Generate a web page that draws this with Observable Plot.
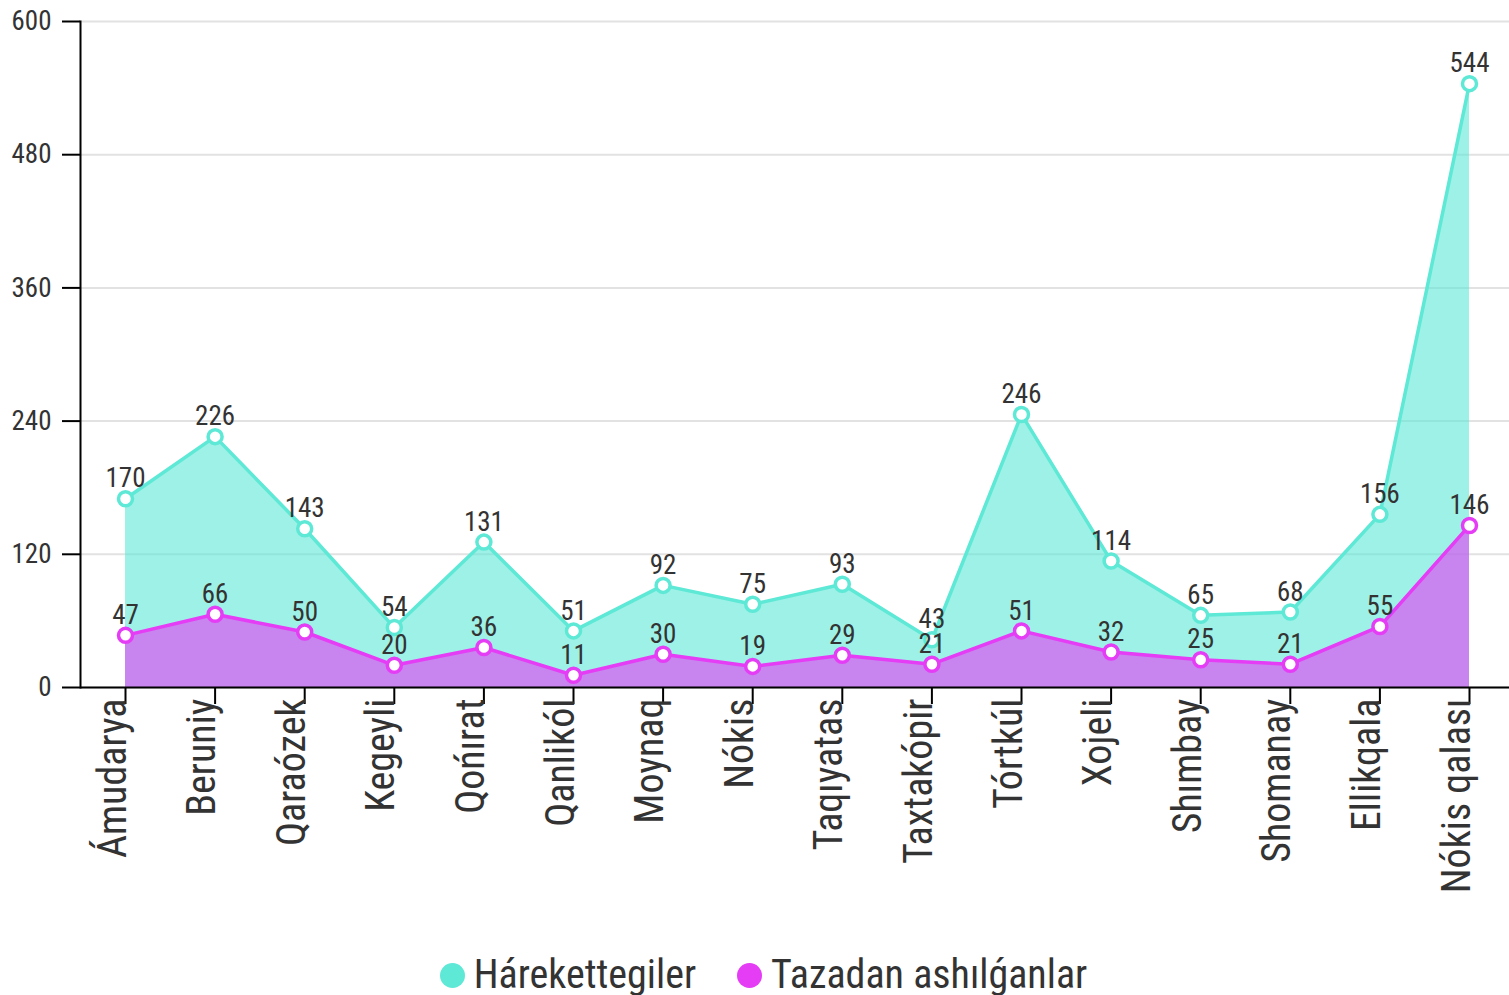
<!DOCTYPE html>
<html>
<head>
<meta charset="utf-8">
<script src="https://cdn.jsdelivr.net/npm/d3@7"></script>
<script src="https://cdn.jsdelivr.net/npm/@observablehq/plot@0.6"></script>
<style>
  body { margin: 0; background: #fff; font-family: "Roboto Condensed", "Liberation Sans Narrow", Roboto, sans-serif; }
  #chart svg { display: block; }
  .legend { display: flex; justify-content: center; align-items: center; gap: 41px; margin-top: 40px; padding-left: 18px; font-size: 40px; color: #333; line-height: 50px; }
  .legend span.item { display: flex; align-items: center; gap: 9px; }
  .legend span.sw { width: 25px; height: 25px; border-radius: 50%; display: inline-block; }
</style>
</head>
<body>
<div id="chart"></div>
<div class="legend" id="legend"></div>
<script>
const categories = ["Ámudarya","Beruniy","Qaraózek","Kegeyli","Qońırat","Qanlikól","Moynaq","Nókis","Taqıyatas","Taxtakópir","Tórtkúl","Xojeli","Shımbay","Shomanay","Ellikqala","Nókis qalası"];
const harekettegiler = [170,226,143,54,131,51,92,75,93,43,246,114,65,68,156,544];
const tazadan = [47,66,50,20,36,11,30,19,29,21,51,32,25,21,55,146];
const seriesNames = ["Hárekettegiler","Tazadan ashılǵanlar"];
const seriesColors = ["#5ee8d6","#e53cf5"];
const yTicks = [0,120,240,360,480,600];

const dataH = categories.map((c,i)=>({cat:c, v:harekettegiler[i]}));
const dataT = categories.map((c,i)=>({cat:c, v:tazadan[i]}));
const font = '"Roboto Condensed", "Liberation Sans Narrow", Roboto, sans-serif';

const chart = Plot.plot({
  width: 1509,
  height: 910,
  marginLeft: 80,
  marginRight: 0,
  marginTop: 21,
  marginBottom: 223,
  style: {fontFamily: font, background: "white"},
  x: {type: "point", domain: categories, range: [80.2, 1513.8], padding: 0.5, round: false, label: null},
  y: {domain: [0, 600], label: null},
  marks: [
    Plot.gridY(yTicks, {stroke: "#e2e2e2", strokeOpacity: 1, strokeWidth: 2}),
    Plot.areaY(dataH, {x: "cat", y: "v", fill: seriesColors[0], fillOpacity: 0.6}),
    Plot.areaY(dataT, {x: "cat", y: "v", fill: seriesColors[1], fillOpacity: 0.6}),
    Plot.lineY(dataH, {x: "cat", y: "v", stroke: seriesColors[0], strokeWidth: 3.5}),
    Plot.lineY(dataT, {x: "cat", y: "v", stroke: seriesColors[1], strokeWidth: 3.5}),
    Plot.dot(dataH, {x: "cat", y: "v", r: 7, fill: "white", stroke: seriesColors[0], strokeWidth: 3.5}),
    Plot.dot(dataT, {x: "cat", y: "v", r: 7, fill: "white", stroke: seriesColors[1], strokeWidth: 3.5}),
    Plot.text(dataH, {x: "cat", y: "v", text: "v", dy: -20, fontSize: 27, fill: "#333"}),
    Plot.text(dataT, {x: "cat", y: "v", text: "v", dy: -20, fontSize: 27, fill: "#333"}),
    Plot.axisY({ticks: yTicks, tickSize: 18, tickPadding: 11, fontSize: 27, fill: "#333", stroke: "black", strokeWidth: 2, label: null}),
    Plot.axisX({tickSize: 17, tickFormat: () => "", stroke: "black", strokeWidth: 2, label: null}),
    Plot.text(categories, {x: d => d, frameAnchor: "bottom", rotate: -90, textAnchor: "end", lineAnchor: "bottom", dy: 11, fontSize: 40, fill: "#333"}),
    Plot.ruleY([0], {stroke: "black", strokeWidth: 2}),
    Plot.frame({anchor: "left", stroke: "black", strokeWidth: 2})
  ]
});
document.getElementById("chart").appendChild(chart);

const legend = document.getElementById("legend");
seriesNames.forEach((n,i)=>{
  const item = document.createElement("span"); item.className = "item";
  const sw = document.createElement("span"); sw.className = "sw"; sw.style.background = seriesColors[i];
  const t = document.createElement("span"); t.textContent = n;
  item.appendChild(sw); item.appendChild(t); legend.appendChild(item);
});
</script>
</body>
</html>
